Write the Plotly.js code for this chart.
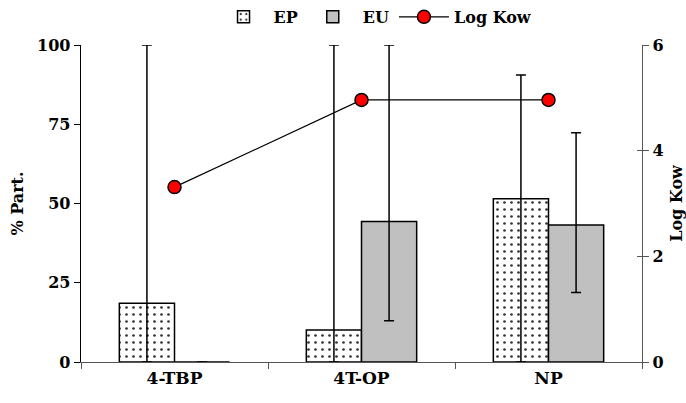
<!DOCTYPE html>
<html>
<head>
<meta charset="utf-8">
<script src="https://cdn.plot.ly/plotly-3.0.1.min.js"></script>
<style>html,body{margin:0;padding:0;background:#fff}#chart{width:686px;height:403px}</style>
</head>
<body>
<div id="chart"></div>
<script>
const categories = ["4-TBP", "4T-OP", "NP"];
const epValues = [18.5, 10.1, 51.5];
const epErrPlus = [81.5, 89.9, 39];
const epErrMinus = [18.5, 10.1, 51.5];
const euValues = [0, 44.3, 43.2];
const euErrPlus = [0, 55.7, 29.1];
const euErrMinus = [0, 31.3, 21.3];
const logKow = [3.31, 4.96, 4.96];
const leftTicks = [0, 25, 50, 75, 100];
const rightTicks = [0, 2, 4, 6];

const bold = (size) => ({family: "DejaVu Serif", size: size, color: "#000", weight: "bold"});

const traces = [
  {
    type: "bar", name: "EP", x: categories, y: epValues,
    marker: {color: "#ffffff", line: {color: "#000", width: 1.5},
      pattern: {shape: ".", fgcolor: "#333", bgcolor: "#ffffff", size: 7, solidity: 0.12}},
    error_y: {type: "data", symmetric: false, array: epErrPlus, arrayminus: epErrMinus,
      color: "#000", thickness: 1.5, width: 5}
  },
  {
    type: "bar", name: "EU", x: categories, y: euValues,
    marker: {color: "#c0c0c0", line: {color: "#000", width: 1.5}},
    error_y: {type: "data", symmetric: false, array: euErrPlus, arrayminus: euErrMinus,
      color: "#000", thickness: 1.5, width: 5}
  },
  {
    type: "scatter", mode: "lines+markers", name: "Log Kow", x: categories, y: logKow,
    yaxis: "y2",
    line: {color: "#000", width: 1.2},
    marker: {color: "#ff0000", size: 13, line: {color: "#000", width: 1.5}}
  },
  {
    type: "scatter", x: [], y: [], yaxis: "y3", showlegend: false, hoverinfo: "skip"
  }
];

const layout = {
  width: 686, height: 403,
  margin: {l: 81, r: 44, t: 45, b: 41, autoexpand: false},
  paper_bgcolor: "#fff", plot_bgcolor: "#fff",
  font: bold(15),
  barmode: "group",
  bargap: 0.41, bargroupgap: 0,
  showlegend: true,
  legend: {orientation: "h", x: 0.525, xanchor: "center", yref: "container", y: 0.958, yanchor: "middle",
    font: bold(16), itemwidth: 50, tracegroupgap: 0},
  xaxis: {
    type: "category", showline: true, linecolor: "#555", linewidth: 1.3,
    ticks: "outside", ticklen: 6, tickcolor: "#555", tickson: "boundaries",
    tickfont: bold(17),
    showgrid: false, zeroline: false
  },
  yaxis: {
    range: [0, 100], tickvals: leftTicks, ticktext: leftTicks.map(String),
    showline: true, linecolor: "#000", linewidth: 1.3,
    ticks: "outside", ticklen: 6, tickcolor: "#000",
    tickfont: bold(16),
    showgrid: false, zeroline: false,
    title: {text: "% Part.", font: bold(16), standoff: 9}
  },
  yaxis2: {
    range: [0, 6], tickvals: rightTicks, ticktext: rightTicks.map(String),
    overlaying: "y", side: "right", anchor: "x",
    showline: true, linecolor: "#555", linewidth: 1.3,
    ticks: "outside", ticklen: 6, tickcolor: "#555",
    tickfont: bold(16),
    showgrid: false, zeroline: false,
    title: {text: "Log Kow", font: bold(16), standoff: 9}
  },
  yaxis3: {
    range: [0, 6], tickvals: rightTicks, showticklabels: false,
    overlaying: "y", side: "right", anchor: "x",
    showline: false, ticks: "inside", ticklen: 5, tickcolor: "#555",
    showgrid: false, zeroline: false
  }
};

Plotly.newPlot("chart", traces, layout, {staticPlot: true, displayModeBar: false});
</script>
</body>
</html>
